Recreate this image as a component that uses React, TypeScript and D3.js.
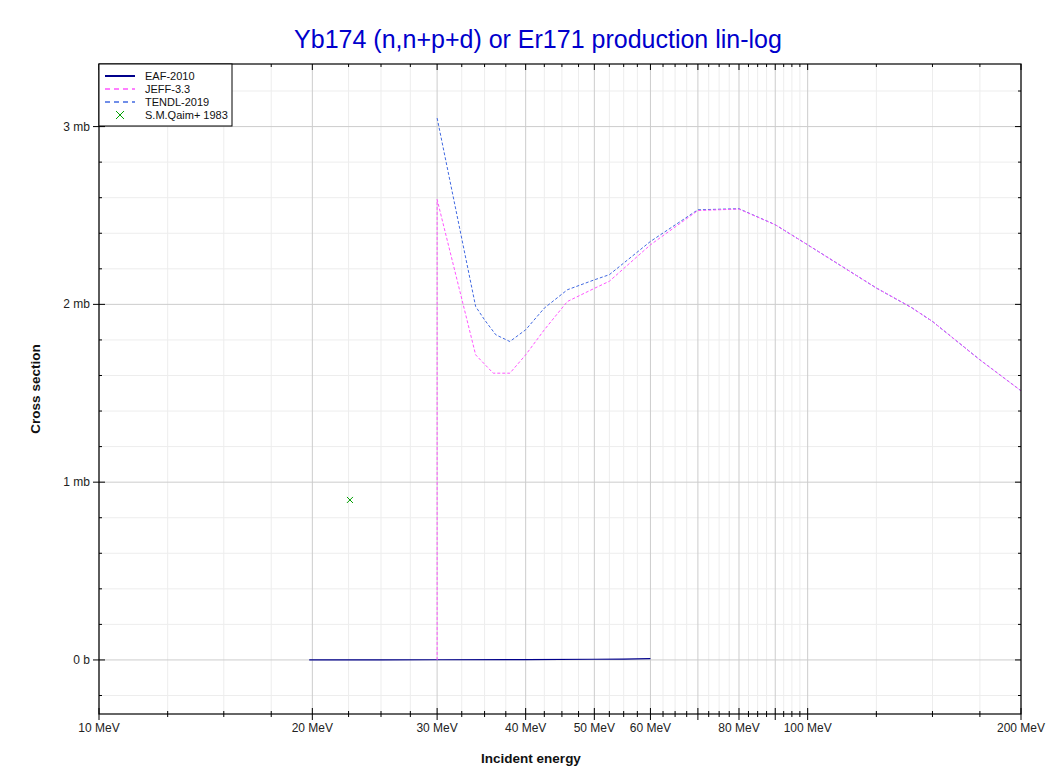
import React from "react";
import * as d3 from "d3";

// ---- Data ----
const eafEnergy = [19.8, 25, 30, 40, 50, 55, 60];
const eafXs = [0.0, 0.0005, 0.001, 0.002, 0.004, 0.005, 0.008];

const jeffEnergy = [30, 30, 34, 36, 38, 40, 42.5, 45.8, 50, 52.5, 60, 70, 80, 90, 100, 125, 140, 150, 175, 200];
const jeffXs = [0, 2.59, 1.716, 1.613, 1.613, 1.716, 1.857, 2.016, 2.09, 2.13, 2.335, 2.528, 2.536, 2.448, 2.335, 2.092, 1.983, 1.904, 1.688, 1.514];

const tendlEnergy = [30, 34, 35, 36.3, 38, 40, 42.5, 45.8, 50, 52.5, 60, 70, 80, 90, 100, 125, 140, 150, 175, 200];
const tendlXs = [3.048, 1.988, 1.913, 1.829, 1.791, 1.857, 1.979, 2.082, 2.138, 2.167, 2.354, 2.532, 2.538, 2.448, 2.335, 2.092, 1.983, 1.904, 1.688, 1.514];

const expEnergy = [22.6];
const expXs = [0.9];

const xLabeledTicks = [10, 20, 30, 40, 50, 60, 80, 100, 200];
const xLabeledText = ["10 MeV", "20 MeV", "30 MeV", "40 MeV", "50 MeV", "60 MeV", "80 MeV", "100 MeV", "200 MeV"];
const xUnlabeledMajor = [70, 90];
const xMinorTicks = [12.5, 15, 17.5, 22.5, 25, 27.5, 32.5, 35, 37.5, 42.5, 45, 47.5, 52.5, 55, 57.5, 62.5, 65, 67.5, 72.5, 75, 77.5, 82.5, 85, 87.5, 92.5, 95, 97.5, 125, 150, 175];

const yMajorTicks = [0, 1, 2, 3];
const yMajorText = ["0 b", "1 mb", "2 mb", "3 mb"];
const yMinorTicks = [-0.2, 0.2, 0.4, 0.6, 0.8, 1.2, 1.4, 1.6, 1.8, 2.2, 2.4, 2.6, 2.8, 3.2];

const legendNames = ["EAF-2010", "JEFF-3.3", "TENDL-2019", "S.M.Qaim+ 1983"];

// ---- Layout ----
const W = 1053, H = 774;
const L = 99, R = 1021, T = 64, B = 714;
const FONT = "Liberation Sans, Arial, sans-serif";

export default function App() {
  const x = d3.scaleLog().domain([10, 200]).range([L, R]);
  const y = d3.scaleLinear().domain([-0.304, 3.352]).range([B, T]);

  const line = d3.line<[number, number]>().x(d => x(d[0])).y(d => y(d[1]));
  const eaf = line(eafEnergy.map((e, i) => [e, eafXs[i]] as [number, number])) || "";
  const jeff = line(jeffEnergy.map((e, i) => [e, jeffXs[i]] as [number, number])) || "";
  const tendl = line(tendlEnergy.map((e, i) => [e, tendlXs[i]] as [number, number])) || "";

  const majorX = [...xLabeledTicks, ...xUnlabeledMajor];
  const gridMajor = "#cccccc";
  const gridMinor = "#ededed";

  return (
    <div style={{ position: "absolute", left: 0, top: 0 }}>
      <svg width={W} height={H} style={{ display: "block", background: "#fff" }} fontFamily={FONT}>
        <rect x={0} y={0} width={W} height={H} fill="#fff" />
        <defs>
          <clipPath id="plot">
            <rect x={L} y={T} width={R - L} height={B - T} />
          </clipPath>
        </defs>
        {/* grid */}
        {xMinorTicks.map(v => (
          <line key={"gxm" + v} x1={x(v)} x2={x(v)} y1={T} y2={B} stroke={gridMinor} strokeWidth={1} />
        ))}
        {yMinorTicks.map(v => (
          <line key={"gym" + v} x1={L} x2={R} y1={y(v)} y2={y(v)} stroke={gridMinor} strokeWidth={1} />
        ))}
        {majorX.map(v => (
          <line key={"gx" + v} x1={x(v)} x2={x(v)} y1={T} y2={B} stroke={gridMajor} strokeWidth={1} />
        ))}
        {yMajorTicks.map(v => (
          <line key={"gy" + v} x1={L} x2={R} y1={y(v)} y2={y(v)} stroke={gridMajor} strokeWidth={1} />
        ))}

        {/* data */}
        <g clipPath="url(#plot)">
          <path d={eaf} fill="none" stroke="#00008b" strokeWidth={1.2} />
          <path d={tendl} fill="none" stroke="#4169e1" strokeWidth={1} strokeDasharray="3,2" />
          <path d={jeff} fill="none" stroke="#ff55ff" strokeWidth={1} strokeDasharray="3,2" />
          {expEnergy.map((e, i) => {
            const cx = x(e), cy = y(expXs[i]);
            return (
              <g key={"exp" + i} stroke="#00a000" strokeWidth={1}>
                <line x1={cx - 3} y1={cy - 3} x2={cx + 3} y2={cy + 3} />
                <line x1={cx - 3} y1={cy + 3} x2={cx + 3} y2={cy - 3} />
              </g>
            );
          })}
        </g>

        {/* frame */}
        <rect x={L} y={T} width={R - L} height={B - T} fill="none" stroke="#000" strokeWidth={1.2} />

        {/* x ticks */}
        {majorX.map(v => (
          <g key={"tx" + v}>
            <line x1={x(v)} x2={x(v)} y1={B - 6} y2={B + 6} stroke="#000" />
            <line x1={x(v)} x2={x(v)} y1={T} y2={T + 6} stroke="#000" />
          </g>
        ))}
        {xMinorTicks.map(v => (
          <g key={"txm" + v}>
            <line x1={x(v)} x2={x(v)} y1={B - 3} y2={B + 3} stroke="#000" />
            <line x1={x(v)} x2={x(v)} y1={T} y2={T + 3} stroke="#000" />
          </g>
        ))}
        {xLabeledTicks.map((v, i) => (
          <text key={"lx" + v} x={x(v)} y={B + 18} fontSize={12} textAnchor="middle" fill="#222">
            {xLabeledText[i]}
          </text>
        ))}

        {/* y ticks */}
        {yMajorTicks.map((v, i) => (
          <g key={"ty" + v}>
            <line x1={L - 6} x2={L + 6} y1={y(v)} y2={y(v)} stroke="#000" />
            <line x1={R - 6} x2={R} y1={y(v)} y2={y(v)} stroke="#000" />
            <text x={L - 9} y={y(v) + 4} fontSize={12} textAnchor="end" fill="#222">
              {yMajorText[i]}
            </text>
          </g>
        ))}
        {yMinorTicks.map(v => (
          <g key={"tym" + v}>
            <line x1={L} x2={L + 3} y1={y(v)} y2={y(v)} stroke="#000" />
            <line x1={R - 3} x2={R} y1={y(v)} y2={y(v)} stroke="#000" />
          </g>
        ))}

        {/* titles */}
        <text x={538} y={48} fontSize={25} textAnchor="middle" fill="#0000cc">
          Yb174 (n,n+p+d) or Er171 production lin-log
        </text>
        <text x={531} y={763} fontSize={13.5} fontWeight="bold" textAnchor="middle" fill="#111">
          Incident energy
        </text>
        <text transform={`translate(40,${(T + B) / 2}) rotate(-90)`} fontSize={13.5} fontWeight="bold" textAnchor="middle" fill="#111">
          Cross section
        </text>

        {/* legend */}
        <g>
          <rect x={L} y={T} width={133} height={62} fill="#fff" stroke="#000" strokeWidth={1} />
          {legendNames.map((n, i) => {
            const ly = T + 12 + i * 13;
            return (
              <g key={"lg" + i}>
                {i === 0 && <line x1={105} x2={135} y1={ly} y2={ly} stroke="#00008b" strokeWidth={2} />}
                {i === 1 && <line x1={105} x2={135} y1={ly} y2={ly} stroke="#ff55ff" strokeWidth={1.5} strokeDasharray="5,4" />}
                {i === 2 && <line x1={105} x2={135} y1={ly} y2={ly} stroke="#4169e1" strokeWidth={1.5} strokeDasharray="5,4" />}
                {i === 3 && (
                  <g stroke="#00a000" strokeWidth={1}>
                    <line x1={116} y1={ly - 4} x2={124} y2={ly + 4} />
                    <line x1={116} y1={ly + 4} x2={124} y2={ly - 4} />
                  </g>
                )}
                <text x={145} y={ly + 4} fontSize={11} fill="#111">{n}</text>
              </g>
            );
          })}
        </g>
      </svg>
    </div>
  );
}
